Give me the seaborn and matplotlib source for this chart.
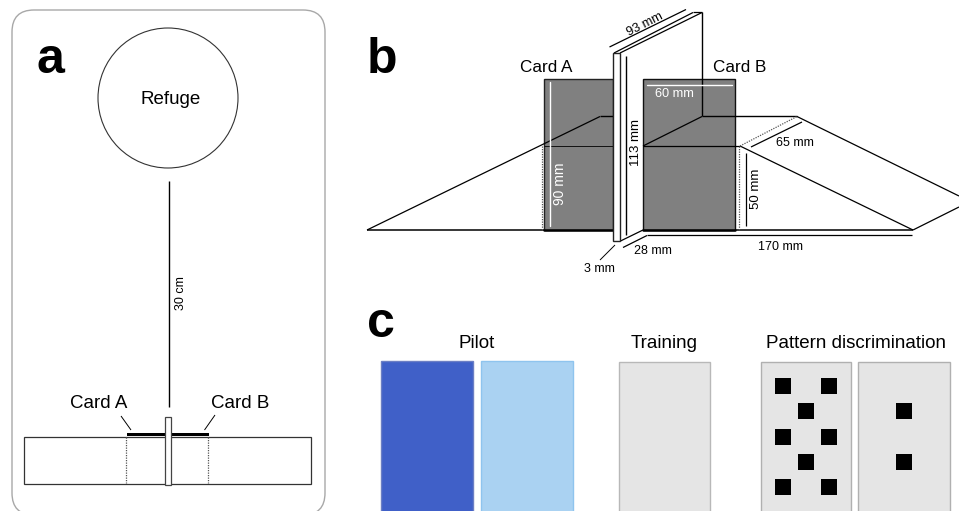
import matplotlib
matplotlib.use("Agg")
import matplotlib.pyplot as plt
from matplotlib.patches import Rectangle, Circle, FancyBboxPatch
import pandas as pd
import seaborn as sns

sns.set_theme(style="white")
plt.rcParams['font.family'] = ['Liberation Sans', 'DejaVu Sans']

# Panel letters and labels
panel_letters = ["a", "b", "c"]
panel_letter_xy = [(50, 73), (382, 73), (381, 337)]
card_labels = ["Card A", "Card B"]
stimulus_groups = ["Pilot", "Training", "Pattern discrimination"]

# Pattern squares (x, y of centres)
left_square_x = [783, 829, 806, 783, 829, 806, 783, 829]
left_square_y = [386, 386, 411.5, 437, 437, 462, 487, 487]
right_square_x = [904, 904]
right_square_y = [411.5, 462]

# Stimulus cards: x0, x1, y0, face, edge
stim_cards = [
    (381, 473, 361, "#4060c8", "#6c7fc4"),
    (481, 572.5, 361, "#aad2f2", "#8fc4ee"),
    (618.5, 710, 362, "#e5e5e5", "#b8b8b8"),
    (760.5, 850.5, 362, "#e5e5e5", "#b0b0b0"),
    (858, 949.5, 362, "#e5e5e5", "#b0b0b0"),
]

# Thin black lines of panel a and b: (x0, y0, x1, y1, width)
lines_solid = [
    # panel a
    (168.5, 181, 168.5, 407, 1.0),
    (121, 416, 131, 430, 0.7),
    (215, 415, 204.5, 430, 0.7),
    # panel b left ramp
    (367, 230, 600, 116.5, 0.9),
    (600, 116.5, 613, 116.5, 1.0),
    (367, 230, 544, 230, 1.1),
    (544, 146, 613, 146, 0.6),
    # divider
    (626, 56, 626, 235, 1.0),
    (614, 53, 693, 12.5, 0.9),
    (620, 53, 702, 12.5, 0.9),
    (693, 12.5, 702, 12.5, 0.9),
    (609.5, 47, 686, 9.5, 0.9),
    (702, 12.5, 702, 116.5, 1.0),
    (620.5, 241, 643, 230, 0.9),
    (623, 247.5, 647, 235.5, 0.9),
    (600, 260, 615, 245, 0.7),
    # right ramp
    (643, 146, 702, 116.5, 0.9),
    (702, 116.5, 797, 116.5, 1.0),
    (643, 146, 740, 146, 0.9),
    (740, 146, 913, 230, 0.9),
    (797, 116.5, 959, 196, 0.9),
    (913, 230, 959, 207, 0.9),
    (735, 230, 913, 230, 1.1),
    (647, 235.5, 912, 235.5, 0.9),
    (751, 147, 802, 122, 0.9),
    (746, 153, 746, 226, 0.9),
]
lines_dotted = [
    (125.5, 437, 125.5, 483.5),
    (208, 437, 208, 483.5),
    (541.7, 146, 541.7, 230),
    (738.5, 146, 738.5, 230),
    (740, 146, 797, 116.5),
]
lines_white = [
    (549.5, 82, 549.5, 226),
    (647, 85, 732, 85),
]

# Small text: (x, y, label, rotation, colour, size)
small_text = [
    (180.5, 293, "30 cm", 90, "black", 9),
    (559.5, 183.5, "90 mm", 90, "white", 10),
    (674, 94, "60 mm", 0, "white", 9.2),
    (636, 143, "113 mm", 90, "black", 9.5),
    (645, 25, "93 mm", 27, "black", 9.2),
    (795, 143, "65 mm", 0, "black", 9),
    (756, 189, "50 mm", 90, "black", 9.5),
    (780, 247, "170 mm", 0, "black", 9),
    (653, 251, "28 mm", 0, "black", 9),
    (599, 269, "3 mm", 0, "black", 9),
]

fig = plt.figure(figsize=(9.59, 5.11), dpi=100)
ax = fig.add_axes([0, 0, 1, 1])
ax.set_xlim(0, 959)
ax.set_ylim(511, 0)
ax.axis("off")

# --- Panel a ---
ax.add_patch(FancyBboxPatch((34, 32), 269, 461, boxstyle="round,pad=22,rounding_size=22",
                            fc="white", ec="#a8a8a8", lw=1.0))
ax.add_patch(Circle((168, 98), 70, fc="white", ec="#333333", lw=0.8))
ax.text(171, 100, "Refuge", fontsize=13.5, ha="center", va="center", color="black")
ax.add_patch(Rectangle((24, 436.7), 287, 47, fc="white", ec="#333333", lw=0.9))
ax.add_patch(Rectangle((127, 433), 82, 3.5, fc="black", ec="none", zorder=3))
ax.add_patch(Rectangle((164.5, 417.5), 6.5, 67.5, fc="white", ec="#444444", lw=0.9, zorder=4))
ax.text(99, 404, card_labels[0], fontsize=13.5, ha="center", va="center", color="black")
ax.text(240, 404, card_labels[1], fontsize=13.5, ha="center", va="center", color="black")

# --- Panel b cards ---
ax.add_patch(Rectangle((544, 79), 68.5, 151, fc="#808080", ec="#222222", lw=1.0))
ax.add_patch(Rectangle((642.5, 79), 92, 151, fc="#808080", ec="#111111", lw=1.0))
ax.plot([544, 612.5], [230, 230], color="black", lw=1.8, zorder=3)
ax.plot([642.5, 734.5], [230, 230], color="black", lw=1.8, zorder=3)
ax.text(546, 68, card_labels[0], fontsize=12.3, ha="center", va="center", color="black")
ax.text(740, 68, card_labels[1], fontsize=12.3, ha="center", va="center", color="black")

for x0, y0, x1, y1, w in lines_solid:
    ax.plot([x0, x1], [y0, y1], color="black", lw=w, solid_capstyle="butt", zorder=2.5)
for x0, y0, x1, y1 in lines_dotted:
    ax.plot([x0, x1], [y0, y1], color="#555555", lw=0.9, ls=(0, (1, 1)), zorder=2.5)
for x0, y0, x1, y1 in lines_white:
    ax.plot([x0, x1], [y0, y1], color="white", lw=1.0, zorder=3)

# Divider front face
ax.add_patch(Rectangle((613, 53), 7, 188, fc="white", ec="#222222", lw=1.0, zorder=4))

for x, y, s, rot, col, size in small_text:
    ax.text(x, y, s, rotation=rot, color=col, fontsize=size, ha="center", va="center",
            rotation_mode="anchor", zorder=5)

# --- Panel c ---
for x0, x1, y0, fc, ec in stim_cards:
    ax.add_patch(Rectangle((x0, y0), x1 - x0, 160, fc=fc, ec=ec, lw=1.0))
ax.text(477, 344, stimulus_groups[0], fontsize=13.5, ha="center", va="center", color="black")
ax.text(664, 344, stimulus_groups[1], fontsize=13.5, ha="center", va="center", color="black")
ax.text(855.5, 344, stimulus_groups[2], fontsize=13.5, ha="center", va="center", color="black")

squares = pd.DataFrame({"x": left_square_x + right_square_x,
                        "y": left_square_y + right_square_y})
sns.scatterplot(data=squares, x="x", y="y", marker="s", s=141, color="black",
                linewidth=0, ax=ax, zorder=5, legend=False)
ax.set_xlim(0, 959)
ax.set_ylim(511, 0)
ax.axis("off")

for (x, y), s in zip(panel_letter_xy, panel_letters):
    ax.text(x, y, s, fontsize=36, fontweight="bold", ha="center", va="baseline", color="black")

fig.savefig("out.png", dpi=100)
